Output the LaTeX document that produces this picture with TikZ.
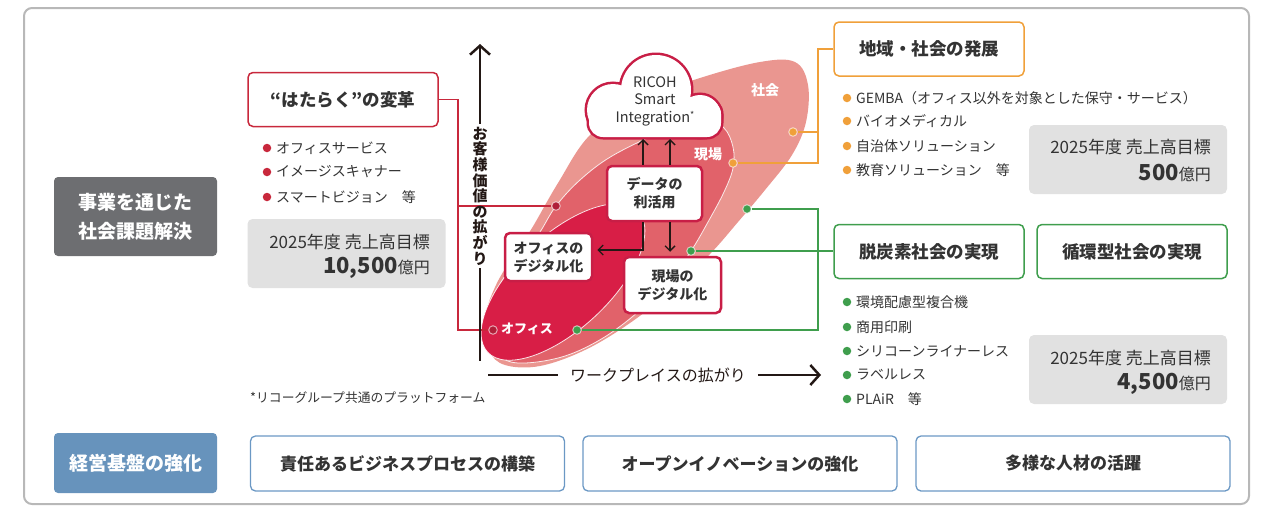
\documentclass[tikz,border=0pt]{standalone}
\usepackage{fontspec}
\setmainfont{Noto Sans CJK JP}
\usetikzlibrary{arrows.meta}
\definecolor{txt}{HTML}{333333}
\definecolor{redb}{HTML}{C8283C}
\definecolor{redd}{HTML}{B01F38}
\definecolor{crim}{HTML}{C81E46}
\definecolor{orng}{HTML}{F0A03A}
\definecolor{grn}{HTML}{3F9E4D}
\definecolor{blu}{HTML}{6B98C4}
\definecolor{blufill}{HTML}{6793BC}
\definecolor{dgray}{HTML}{6D6E71}
\definecolor{lgray}{HTML}{E1E1E1}
\definecolor{framec}{HTML}{B8B8B8}
\definecolor{ofc}{HTML}{D81E46}
\definecolor{gmb}{HTML}{E1626A}
\definecolor{soc}{HTML}{EA9690}
\definecolor{axisc}{HTML}{231815}
\newcommand\fsz[2]{\fontsize{#1pt}{#2pt}\selectfont}
\begin{document}
\begin{tikzpicture}[x=1pt,y=-1pt,
 titlebox/.style={draw, line width=1.5pt, rounded corners=5pt, fill=white, minimum width=190pt, minimum height=54pt, inner sep=0pt, text=txt, font=\fsz{17.5}{21}\bfseries},
 sidebox/.style={rounded corners=4pt, minimum width=163pt, inner sep=0pt, text=white, align=center, font=\fsz{19}{29}\bfseries},
 graybox/.style={fill=lgray, rounded corners=5pt, minimum width=198pt, minimum height=69pt, inner sep=0pt},
 bul/.style={anchor=west, inner sep=0pt, text=txt, font=\fsz{14}{16}},
 dotn/.style={circle, inner sep=0pt, minimum size=8.5pt},
 dote/.style={dotn, draw=white, draw opacity=0.6, line width=1pt},
 innerbox/.style={draw=crim, line width=2.5pt, rounded corners=5pt, fill=white, inner sep=0pt, text=txt, align=center, font=\fsz{14}{18}\bfseries},
 basebox/.style={draw=blu, line width=1.3pt, rounded corners=5pt, minimum width=314pt, minimum height=55pt, inner sep=0pt, text=txt, font=\fsz{17}{19}\bfseries},
 axisline/.style={line width=2.5pt, draw=axisc},
 chev/.style={-{Straight Barb[length=9pt,width=20pt]}},
 smallarrow/.style={line width=1.4pt, draw=axisc, -{Straight Barb[length=5pt,width=10pt]}},
 conn/.style={line width=1.2pt},
 elabel/.style={text=white, font=\fsz{14}{16}\bfseries, inner sep=0pt},
 goala/.style={anchor=east, inner sep=0pt, text=txt, font=\fsz{17}{20}},
 goalb/.style={anchor=east, inner sep=0pt, text=txt},
 edgew/.style={draw=white, line width=0.8pt, draw opacity=0.85},
]
\useasboundingbox (0,0) rectangle (1261,507);
\draw[framec, line width=2pt, rounded corners=8pt] (24,8) rectangle (1249,504);

% ellipses
\fill[soc] plot[smooth cycle, tension=0.6] coordinates {(505,365) (489,350) (485,318) (496,285) (514,255) (532,228) (558,183) (590,135) (640,100) (700,78) (760,62) (795,62) (808,85) (806,122) (792,155) (765,190) (738,222) (710,254) (672,290) (630,323) (585,350) (540,366)};
\path[fill=gmb, edgew] plot[smooth cycle, tension=0.6] coordinates {(502,358) (490,338) (493,300) (508,272) (525,252) (540,232) (556,206) (580,180) (612,156) (660,133) (705,120) (724,128) (733,147) (733,168) (724,192) (708,222) (691,251) (668,283) (638,312) (603,338) (565,356) (525,363)};
\path[fill=ofc, edgew, rotate around={43:(563,282)}] (563,282) ellipse [x radius=103pt, y radius=47pt];

\node[elabel] (lsoc) at (765,90) {社会};
\node[elabel] (lgen) at (708,154) {現場};
\node[elabel, font=\fsz{13}{15}\bfseries] (lofc) at (527,329) {オフィス};

% left boxes
\node[sidebox, fill=dgray, minimum height=79pt] (biz) at (135.5,216.5) {事業を通じた\\社会課題解決};
\node[sidebox, fill=blufill, minimum height=60pt] (base) at (135.5,463) {経営基盤の強化};

\node[titlebox, draw=redb] (hatar) at (343,99.5) {“はたらく”の変革};
\node[dotn, fill=redb] (rb1) at (267,148) {}; \node[bul] (rt1) at (276,148) {オフィスサービス};
\node[dotn, fill=redb] (rb2) at (267,172) {}; \node[bul] (rt2) at (276,172) {イメージスキャナー};
\node[dotn, fill=redb] (rb3) at (267,197) {}; \node[bul] (rt3) at (276,197) {スマートビジョン　等};
\node[graybox] (gl) at (346.5,253.5) {};
\node[goala] (gla) at (430,242) {2025年度 売上高目標};
\node[goalb] (glb) at (430,268) {{\fsz{22}{24}\bfseries 10,500}{\fsz{16}{20}億円}};

% red connector
\node[dote, fill=redd] (rdA) at (493,330) {};
\node[dote, fill=redd] (rdB) at (556,206) {};
\coordinate (rj) at (458,99.5);
\coordinate (rjb) at (458,206);
\draw[redb, conn] (hatar.east) -- (rj) |- (rdA);
\draw[redb, conn] (rjb) -- (rdB);

% right boxes
\node[titlebox, draw=orng] (region) at (929,49) {地域・社会の発展};
\node[dotn, fill=orng] (ob1) at (847,98) {}; \node[bul] (ot1) at (856,98) {GEMBA（オフィス以外を対象とした保守・サービス）};
\node[dotn, fill=orng] (ob2) at (847,121) {}; \node[bul] (ot2) at (856,121) {バイオメディカル};
\node[dotn, fill=orng] (ob3) at (847,146) {}; \node[bul] (ot3) at (856,146) {自治体ソリューション};
\node[dotn, fill=orng] (ob4) at (847,170) {}; \node[bul] (ot4) at (856,170) {教育ソリューション　等};
\node[graybox] (gr1) at (1128,159.5) {};
\node[goala] (gr1a) at (1211,147) {2025年度 売上高目標};
\node[goalb] (gr1b) at (1211,173) {{\fsz{22}{24}\bfseries 500}{\fsz{16}{20}億円}};

\node[titlebox, draw=grn] (decarb) at (929,251.5) {脱炭素社会の実現};
\node[titlebox, draw=grn] (circ) at (1132,251.5) {循環型社会の実現};
\node[dotn, fill=grn] (gb1) at (847,302) {}; \node[bul] (gt1) at (856,302) {環境配慮型複合機};
\node[dotn, fill=grn] (gb2) at (847,327) {}; \node[bul] (gt2) at (856,327) {商用印刷};
\node[dotn, fill=grn] (gb3) at (847,351) {}; \node[bul] (gt3) at (856,351) {シリコーンライナーレス};
\node[dotn, fill=grn] (gb4) at (847,375) {}; \node[bul] (gt4) at (856,375) {ラベルレス};
\node[dotn, fill=grn] (gb5) at (847,399) {}; \node[bul] (gt5) at (856,399) {PLAiR　等};
\node[graybox] (gr2) at (1128,369.5) {};
\node[goala] (gr2a) at (1211,358) {2025年度 売上高目標};
\node[goalb] (gr2b) at (1211,384) {{\fsz{22}{24}\bfseries 4,500}{\fsz{16}{20}億円}};

% orange connectors
\node[dote, fill=orng] (od1) at (793,132) {};
\node[dote, fill=orng] (od2) at (733,163) {};
\coordinate (oj) at (818,49);
\coordinate (ojb) at (818,132);
\draw[orng, conn] (region.west) -- (oj) |- (od2);
\draw[orng, conn] (ojb) -- (od1);

% green connectors
\node[dote, fill=grn] (gd1) at (747,209) {};
\node[dote, fill=grn] (gd2) at (691,251) {};
\node[dote, fill=grn] (gd3) at (577,330) {};
\coordinate (gj) at (818,209);
\draw[grn, conn] (gd1) -- (gj) |- (gd3);
\draw[grn, conn] (gd2) -- (gd2 -| decarb.west);

% cloud
\draw[crim, line width=5pt] (613,110) circle (26pt) (656,90) circle (35pt) (700,116) circle (21pt);
\draw[crim, line width=5pt, rounded corners=14pt] (589,100) rectangle (721,137);
\fill[white] (613,110) circle (26pt) (656,90) circle (35pt) (700,116) circle (21pt);
\fill[white, rounded corners=14pt] (589,100) rectangle (721,137);
\node[text=txt, align=center, font=\fsz{14.5}{17.5}, inner sep=0pt] (cloudtxt) at (655,101) {RICOH\\Smart\\Integration{\fsz{9}{9}\raisebox{4pt}{*}}};

% inner boxes
\node[innerbox, minimum width=95pt, minimum height=55pt] (data) at (654.5,193.5) {データの\\利活用};
\node[innerbox, minimum width=87pt, minimum height=48pt] (odig) at (548.5,257) {オフィスの\\デジタル化};
\node[innerbox, minimum width=97pt, minimum height=56pt] (gdig) at (672.5,285) {現場の\\デジタル化};

\coordinate (cb1) at (643,139);
\coordinate (cb2) at (670,139);
\coordinate (ab) at (643,250);
\draw[smallarrow] (data.north -| cb1) -- (cb1);
\draw[smallarrow] (data.north -| cb2) -- (cb2);
\draw[smallarrow, shorten >=4pt] (data.south -| ab) -- (ab) -- (odig.east |- ab);
\draw[smallarrow, shorten >=4pt] (data.south -| cb2) -- (gdig.north -| cb2);

% axes
\node[font=\fsz{15}{15.6}\bfseries, align=center, inner sep=3pt, text=axisc] (vax) at (480,196) {お\\客\\様\\価\\値\\の\\拡\\が\\り};
\coordinate (vbot) at (480,361);
\coordinate (vtop) at (480,44);
\draw[axisline] (vax.south) -- (vbot);
\draw[axisline, chev] (vax.north) -- (vtop);
\node[font=\fsz{16}{18}, text=axisc, inner sep=0pt, inner xsep=12pt] (hax) at (658,375) {ワークプレイスの拡がり};
\coordinate (hleft) at (488,375);
\coordinate (hright) at (821,375);
\draw[axisline] (hleft) -- (hax.west);
\draw[axisline, chev] (hax.east) -- (hright);

\node[anchor=west, inner sep=0pt, text=txt, font=\fsz{12.8}{14}] (fn) at (250,398) {*リコーグループ共通のプラットフォーム};

% bottom
\node[basebox] (b1) at (407.5,463.5) {責任あるビジネスプロセスの構築};
\node[basebox] (b2) at (740,463.5) {オープンイノベーションの強化};
\node[basebox] (b3) at (1073,463.5) {多様な人材の活躍};
\end{tikzpicture}
\end{document}
